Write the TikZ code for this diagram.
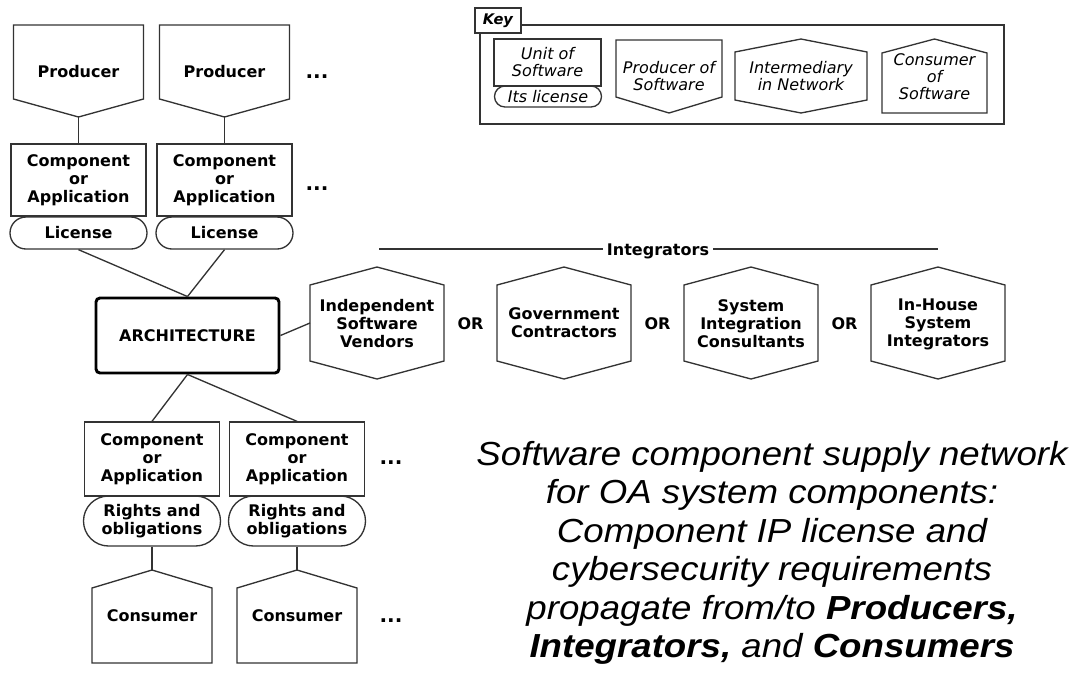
\documentclass[tikz,border=0pt]{standalone}
\usepackage{fontspec}
\setmainfont{DejaVu Sans}
\newfontfamily\capfont[FakeStretch=1.1]{Liberation Sans}
\usetikzlibrary{shapes.misc, calc}

\tikzset{
  link/.style={draw=black!80, line width=1pt},
  shp/.style={draw=black!80, line width=1pt},
  lbl/.style={align=center, font=\fontsize{12}{13.5}\selectfont\bfseries, inner sep=0pt},
  keylbl/.style={align=center, font=\fontsize{12}{12.75}\selectfont\itshape, inner sep=0pt},
  unitbox/.style={shp, rectangle, minimum width=101.25pt, minimum height=54pt, lbl},
  licbox/.style={shp, rounded rectangle, minimum width=102.75pt, minimum height=24pt, lbl},
  dots/.style={font=\fontsize{15}{16}\selectfont\bfseries, inner sep=0pt},
}

\begin{document}
\begin{tikzpicture}[x=0.75pt, y=-0.75pt]
  \useasboundingbox (0,0) rectangle (1081,683);

  % Producers
  \draw[shp] (13.5,25) -- (143.5,25) -- (143.5,99) -- (78.5,117) -- (13.5,99) -- cycle;
  \draw[shp] (159.5,25) -- (289.5,25) -- (289.5,99) -- (224.5,117) -- (159.5,99) -- cycle;
  \coordinate (prodA-tip) at (78.5,117);
  \coordinate (prodB-tip) at (224.5,117);
  \node[lbl] (prodA) at (78.5,72) {Producer};
  \node[lbl] (prodB) at (224.5,72) {Producer};
  \node[dots] (dotsA) at (317,77) {...};

  % Components and licenses
  \node[unitbox] (compA) at (78.5,180) {Component\\or\\Application};
  \node[unitbox] (compB) at (224.5,180) {Component\\or\\Application};
  \node[dots] (dotsB) at (317,189) {...};
  \node[licbox] (licA) at (78.5,233) {License};
  \node[licbox] (licB) at (224.5,233) {License};
  \draw[link] (prodA-tip) -- (compA.north);
  \draw[link] (prodB-tip) -- (compB.north);

  % Architecture
  \node[lbl, draw=black, line width=2.2pt, rounded corners=3pt,
        minimum width=137.25pt, minimum height=56.25pt] (arch) at (187.5,335.5) {ARCHITECTURE};
  \draw[link] (licA.south) -- (arch.north);
  \draw[link] (licB.south) -- (arch.north);

  % Integrators
  \foreach \cx/\nm in {377/isv, 564/gov, 751/sic, 938/ihs} {
    \draw[shp] ({\cx-67},285) -- (\cx,267) -- ({\cx+67},285) -- ({\cx+67},361)
      -- (\cx,379) -- ({\cx-67},361) -- cycle;
    \coordinate (\nm-w) at ({\cx-67},323);
  }
  \node[lbl] (isv) at (377,324) {Independent\\Software\\Vendors};
  \node[lbl] (gov) at (564,323) {Government\\Contractors};
  \node[lbl] (sic) at (751,324) {System\\Integration\\Consultants};
  \node[lbl] (ihs) at (938,324) {In-House\\System\\Integrators};
  \node[lbl] (orA) at (470.5,324) {OR};
  \node[lbl] (orB) at (657.5,324) {OR};
  \node[lbl] (orC) at (844.5,324) {OR};
  \draw[link] (arch.east) -- (isv-w);

  \node[lbl, anchor=base, inner xsep=3pt] (intg) at (658,255) {Integrators};
  \coordinate (intg-l) at (379,249);
  \coordinate (intg-r) at (938,249);
  \draw[link] (intg-l) -- (intg.west |- intg-l);
  \draw[link] (intg.east |- intg-r) -- (intg-r);

  % Components, rights and consumers
  \node[unitbox, minimum height=55.5pt] (compC) at (152,459) {Component\\or\\Application};
  \node[unitbox, minimum height=55.5pt] (compD) at (297,459) {Component\\or\\Application};
  \node[dots] (dotsC) at (391,463) {...};
  \node[licbox, minimum height=37.5pt] (rightsC) at (152,521) {Rights and\\obligations};
  \node[licbox, minimum height=37.5pt] (rightsD) at (297,521) {Rights and\\obligations};
  \draw[link] (arch.south) -- (compC.north);
  \draw[link] (arch.south) -- (compD.north);

  \draw[shp] (92,588) -- (152,570) -- (212,588) -- (212,663) -- (92,663) -- cycle;
  \draw[shp] (237,588) -- (297,570) -- (357,588) -- (357,663) -- (237,663) -- cycle;
  \coordinate (consC-tip) at (152,570);
  \coordinate (consD-tip) at (297,570);
  \node[lbl] (consC) at (152,616) {Consumer};
  \node[lbl] (consD) at (297,616) {Consumer};
  \node[dots] (dotsD) at (391,621) {...};
  \draw[link] (rightsC.south) -- (consC-tip);
  \draw[link] (rightsD.south) -- (consD-tip);

  % Key
  \draw[shp] (480,25) rectangle (1004,124);
  \node[draw=black!80, line width=1pt, fill=white, minimum width=34.5pt, minimum height=18.75pt,
        inner sep=0pt, font=\fontsize{11}{13}\selectfont\bfseries\itshape] (keytab) at (498,20.5) {Key};
  \node[shp, rectangle, minimum width=80.25pt, minimum height=35.25pt, keylbl] (unitK) at (547.5,62.5) {Unit of\\Software};
  \node[shp, rounded rectangle, minimum width=80.25pt, minimum height=15.75pt, keylbl] (licK) at (548,96.5) {Its license};
  \draw[shp] (616,40) -- (722,40) -- (722,97) -- (669,113) -- (616,97) -- cycle;
  \node[keylbl] (prodK) at (669,76.5) {Producer of\\Software};
  \draw[shp] (735,52) -- (801,39) -- (867,52) -- (867,100) -- (801,113) -- (735,100) -- cycle;
  \node[keylbl] (interK) at (801,76.5) {Intermediary\\in Network};
  \draw[shp] (882,53) -- (934.5,39) -- (987,53) -- (987,113) -- (882,113) -- cycle;
  \node[keylbl] (consK) at (934.5,76.5) {Consumer\\of\\Software};

  % Caption
  \node[font=\capfont\fontsize{25}{28.9}\selectfont\itshape, align=center, inner sep=0pt] (caption) at (772,553)
    {Software component supply network\\for OA system components:\\Component IP license and\\cybersecurity requirements\\propagate from/to \textbf{Producers,}\\\textbf{Integrators,} and \textbf{Consumers}};
\end{tikzpicture}
\end{document}
